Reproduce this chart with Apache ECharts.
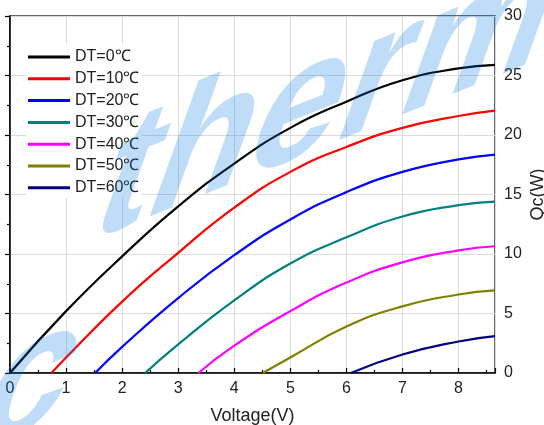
<!DOCTYPE html>
<html lang="en">

<head>
  <meta charset="UTF-8">
  <title>Qc vs Voltage</title>
  <style>
    html, body { margin: 0; padding: 0; background: #fff; }
  </style>
</head>

<body>
  <div id="main" style="width: 544px; height: 425px"></div>

  <script src="https://cdn.jsdelivr.net/npm/echarts@6/dist/echarts.min.js"></script>

  <script>
    // legend names
    var names = ["DT=0℃", "DT=10℃", "DT=20℃", "DT=30℃", "DT=40℃", "DT=50℃", "DT=60℃"]
    var colors = ["#000000", "#ff0000", "#0000ff", "#008080", "#ff00ff", "#808000", "#000080"]

    // Voltage (V) / Qc (W)
    var dt0V = [0, 1, 2, 3, 4, 5, 6, 7, 8, 8.65]
    var dt0Q = [0, 5.2, 9.8, 14.0, 17.6, 20.6, 22.8, 24.6, 25.6, 25.9]
    var dt10V = [0.74, 1, 2, 3, 4, 5, 6, 7, 8, 8.65]
    var dt10Q = [0, 1.3, 6.0, 10.1, 13.9, 16.9, 19.0, 20.6, 21.6, 22.05]
    var dt20V = [1.52, 2, 3, 4, 5, 6, 7, 8, 8.65]
    var dt20Q = [0, 2.2, 6.3, 9.9, 12.9, 15.2, 16.9, 17.95, 18.35]
    var dt30V = [2.41, 3, 4, 5, 6, 7, 8, 8.65]
    var dt30Q = [0, 2.4, 6.1, 9.2, 11.4, 13.15, 14.1, 14.4]
    var dt40V = [3.36, 4, 5, 6, 7, 8, 8.65]
    var dt40Q = [0, 2.3, 5.2, 7.6, 9.3, 10.3, 10.65]
    var dt50V = [4.51, 5, 6, 7, 8, 8.65]
    var dt50Q = [0, 1.3, 3.9, 5.6, 6.6, 6.95]
    var dt60V = [6.08, 7, 8, 8.65]
    var dt60Q = [0, 1.55, 2.65, 3.1]

    var allV = [dt0V, dt10V, dt20V, dt30V, dt40V, dt50V, dt60V]
    var allQ = [dt0Q, dt10Q, dt20Q, dt30Q, dt40Q, dt50Q, dt60Q]

    var font = "Liberation Sans, Arial, sans-serif"

    // slanted watermark text
    function mark(txt, x, y) {
      return {
        type: "text",
        x: x, y: y,
        rotation: 0.384,
        skewX: -0.73,
        scaleY: 0.85,
        z: 100,
        silent: true,
        style: {
          text: txt,
          fontSize: 175,
          fontWeight: "bold",
          fontFamily: font,
          fill: "rgba(0,120,230,0.25)",
          align: "left",
          verticalAlign: "middle"
        }
      }
    }

    window.onload = function () {
      var myChart = echarts.init(document.getElementById('main'))

      var series = names.map(function (n, i) {
        return {
          name: n,
          type: "line",
          smooth: true,
          showSymbol: false,
          lineStyle: { width: 2.2, color: colors[i] },
          itemStyle: { color: colors[i] },
          data: allV[i].map(function (v, j) { return [v, allQ[i][j]] })
        }
      })

      var option = {
        backgroundColor: "#fff",
        animation: false,
        grid: {
          left: 10, right: 49, top: 16, bottom: 52,
          containLabel: false,
          outerBoundsMode: "none",
          show: true, borderColor: "#333", borderWidth: 1.5
        },
        legend: {
          orient: "vertical",
          left: 26, top: 44,
          padding: [5, 2, 2, 2],
          backgroundColor: "#fff",
          itemGap: 5.8,
          itemWidth: 42, itemHeight: 3,
          icon: "rect",
          textStyle: { fontSize: 16, color: "#222", fontFamily: font },
          data: names
        },
        xAxis: {
          type: "value",
          min: 0, max: 8.65, interval: 1,
          name: "Voltage(V)",
          nameLocation: "middle",
          nameGap: 34,
          nameMoveOverlap: false,
          nameTextStyle: { fontSize: 18, color: "#222", fontFamily: font },
          axisLine: { lineStyle: { color: "#000", width: 1.5 } },
          axisTick: { inside: true, length: 5, lineStyle: { color: "#000", width: 1.2 } },
          minorTick: { show: true, splitNumber: 2, length: 3, lineStyle: { color: "#000", width: 1.2 } },
          axisLabel: { fontSize: 16, color: "#222", margin: 8, fontFamily: font, showMaxLabel: false },
          splitLine: { show: true, lineStyle: { color: "#dcdcdc", width: 1 } }
        },
        yAxis: {
          type: "value",
          position: "right",
          min: 0, max: 30, interval: 5,
          name: "Qc(W)",
          nameLocation: "middle",
          nameRotate: 90,
          nameGap: 34,
          nameMoveOverlap: false,
          nameTextStyle: { fontSize: 18, color: "#222", fontFamily: font },
          axisLine: { show: true, lineStyle: { color: "#000", width: 1.5 } },
          axisTick: { show: true, inside: true, length: 5, lineStyle: { color: "#000", width: 1.2 } },
          minorTick: { show: true, splitNumber: 2, length: 3, lineStyle: { color: "#000", width: 1.2 } },
          axisLabel: { fontSize: 16, color: "#222", margin: 9, fontFamily: font },
          splitLine: { show: true, lineStyle: { color: "#dcdcdc", width: 1 } }
        },
        graphic: [mark("c", -15, 403), mark("therm", 103, 191)],
        series: series
      }

      myChart.setOption(option)
    }
  </script>
</body>

</html>
